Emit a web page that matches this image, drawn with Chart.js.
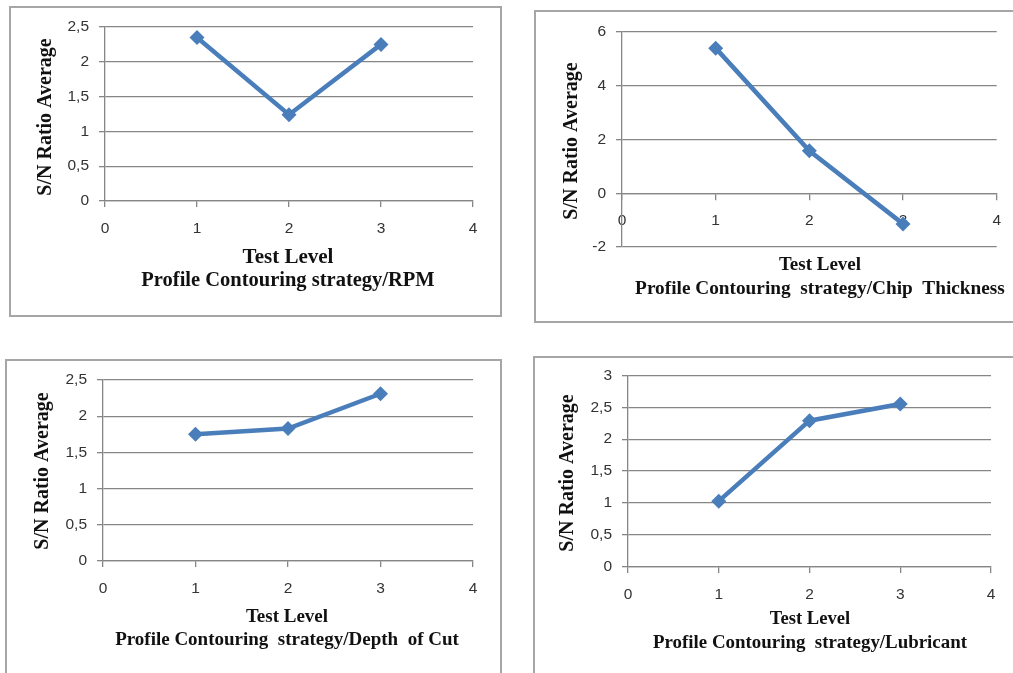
<!DOCTYPE html>
<html lang="en">
<head>
<meta charset="UTF-8">
<title>S/N Ratio Average by Test Level</title>
<style>
  html, body { margin: 0; padding: 0; background: #fff; overflow: hidden; }
  body { width: 1013px; height: 673px; position: relative; }
  .box { position: absolute; border: 2px solid #a6a6a6; box-sizing: border-box; pointer-events: none; }
  canvas { position: absolute; }
</style>
</head>
<body>

<canvas id="cRpm"></canvas>
<canvas id="cChip"></canvas>
<canvas id="cDepth"></canvas>
<canvas id="cLube"></canvas>

<div class="box" style="left:9px;top:6px;width:493px;height:311px"></div>
<div class="box" style="left:534px;top:10px;width:500px;height:313px"></div>
<div class="box" style="left:5px;top:359px;width:497px;height:330px"></div>
<div class="box" style="left:533px;top:356px;width:500px;height:330px"></div>

<script src="https://cdn.jsdelivr.net/npm/chart.js@4"></script>
<script>
// test levels on the x axis and the S/N ratio averages per factor
const levels      = [1, 2, 3];
const snRpm       = [2.35, 1.24, 2.25];
const snChip      = [5.4, 1.58, -1.14];
const snDepth     = [1.75, 1.83, 2.31];
const snLubricant = [1.03, 2.29, 2.55];

const xTicks     = [0, 1, 2, 3, 4];
const yTicksRpm  = [0, 0.5, 1, 1.5, 2, 2.5];
const yTicksChip = [-2, 0, 2, 4, 6];
const yTicksDepth = [0, 0.5, 1, 1.5, 2, 2.5];
const yTicksLube = [0, 0.5, 1, 1.5, 2, 2.5, 3];

const X_TITLE = 'Test Level';
const Y_TITLE = 'S/N Ratio Average';

const BLUE = '#4a7ebb';
const GRID = '#868686';
const TICK_FONT = { family: '"Liberation Sans", sans-serif', size: 15.5 };

// axis titles and caption under each chart
const captions = {
  id: 'captions',
  afterDraw(chart, args, o) {
    const ctx = chart.ctx;
    ctx.save();
    ctx.fillStyle = '#111';
    ctx.textAlign = 'center';
    ctx.textBaseline = 'alphabetic';
    ctx.font = `bold ${o.xSize}px "Liberation Serif", serif`;
    ctx.fillText(X_TITLE, o.cx, o.xY);
    ctx.font = `bold ${o.subSize}px "Liberation Serif", serif`;
    ctx.fillText(o.sub, o.cx, o.subY);
    ctx.translate(o.yx, o.yy);
    ctx.rotate(-Math.PI / 2);
    ctx.textBaseline = 'middle';
    ctx.font = 'bold 20px "Liberation Serif", serif';
    ctx.fillText(Y_TITLE, 0, 0);
    ctx.restore();
  }
};

const comma = v => String(v).replace('.', ',');

function panel(id, box, plot, values, yTicks, cap, atZero) {
  const [bx, by, bw, bh] = box;
  const [L, T, R, B] = plot;
  const cv = document.getElementById(id);
  cv.width = bw; cv.height = bh;
  cv.style.left = bx + 'px'; cv.style.top = by + 'px';
  const xH = 40;

  new Chart(cv, {
    type: 'line',
    data: {
      datasets: [{
        data: levels.map((x, i) => ({ x, y: values[i] })),
        borderColor: BLUE,
        backgroundColor: BLUE,
        borderWidth: 4.5,
        pointStyle: 'rectRot',
        pointRadius: 7.5,
        pointBorderWidth: 0,
        tension: 0
      }]
    },
    options: {
      responsive: false,
      animation: false,
      layout: {
        padding: {
          left: 0,
          top: T - by,
          right: bx + bw - R,
          bottom: atZero ? by + bh - B : by + bh - B - xH
        }
      },
      plugins: {
        legend: { display: false },
        tooltip: { enabled: false },
        captions: {
          sub: cap.sub, xSize: cap.xSize, subSize: cap.subSize,
          cx: cap.cx - bx, xY: cap.xY - by, subY: cap.subY - by,
          yx: cap.yx - bx, yy: cap.yy - by
        }
      },
      scales: {
        x: {
          type: 'linear',
          position: atZero ? { y: 0 } : 'bottom',
          min: 0, max: 4,
          afterBuildTicks: s => { s.ticks = xTicks.map(value => ({ value })); },
          afterFit: s => { if (!atZero) s.height = xH; },
          grid: { drawOnChartArea: false, drawTicks: true, tickLength: 6, color: GRID, lineWidth: 1.3 },
          border: { display: true, color: GRID, width: 1.3 },
          ticks: { color: '#333', font: TICK_FONT, padding: 12, maxRotation: 0 }
        },
        y: {
          type: 'linear',
          min: yTicks[0], max: yTicks[yTicks.length - 1],
          afterBuildTicks: s => { s.ticks = yTicks.map(value => ({ value })); },
          afterFit: s => { s.width = L - bx; },
          grid: { drawOnChartArea: true, drawTicks: true, tickLength: 6, color: GRID, lineWidth: 1.3 },
          border: { display: true, color: GRID, width: 1.3 },
          ticks: { color: '#333', font: TICK_FONT, padding: 10, callback: comma }
        }
      }
    },
    plugins: [captions]
  });
}

panel('cRpm', [9, 6, 493, 311], [105, 27, 473, 201], snRpm, yTicksRpm,
  { sub: 'Profile Contouring strategy/RPM', xSize: 21, subSize: 20.5,
    cx: 288, xY: 263, subY: 286, yx: 46, yy: 117 }, false);

panel('cChip', [534, 10, 479, 313], [622, 32, 999, 247], snChip, yTicksChip,
  { sub: 'Profile Contouring  strategy/Chip  Thickness', xSize: 19, subSize: 19.3,
    cx: 820, xY: 270, subY: 294, yx: 572, yy: 141 }, true);

panel('cDepth', [5, 359, 497, 314], [103, 380, 473, 561], snDepth, yTicksDepth,
  { sub: 'Profile Contouring  strategy/Depth  of Cut', xSize: 19, subSize: 19,
    cx: 287, xY: 622, subY: 645, yx: 43, yy: 471 }, false);

panel('cLube', [533, 356, 480, 317], [628, 375, 991, 567], snLubricant, yTicksLube,
  { sub: 'Profile Contouring  strategy/Lubricant', xSize: 18.6, subSize: 18.9,
    cx: 810, xY: 624, subY: 648, yx: 568, yy: 473 }, false);
</script>
</body>
</html>
